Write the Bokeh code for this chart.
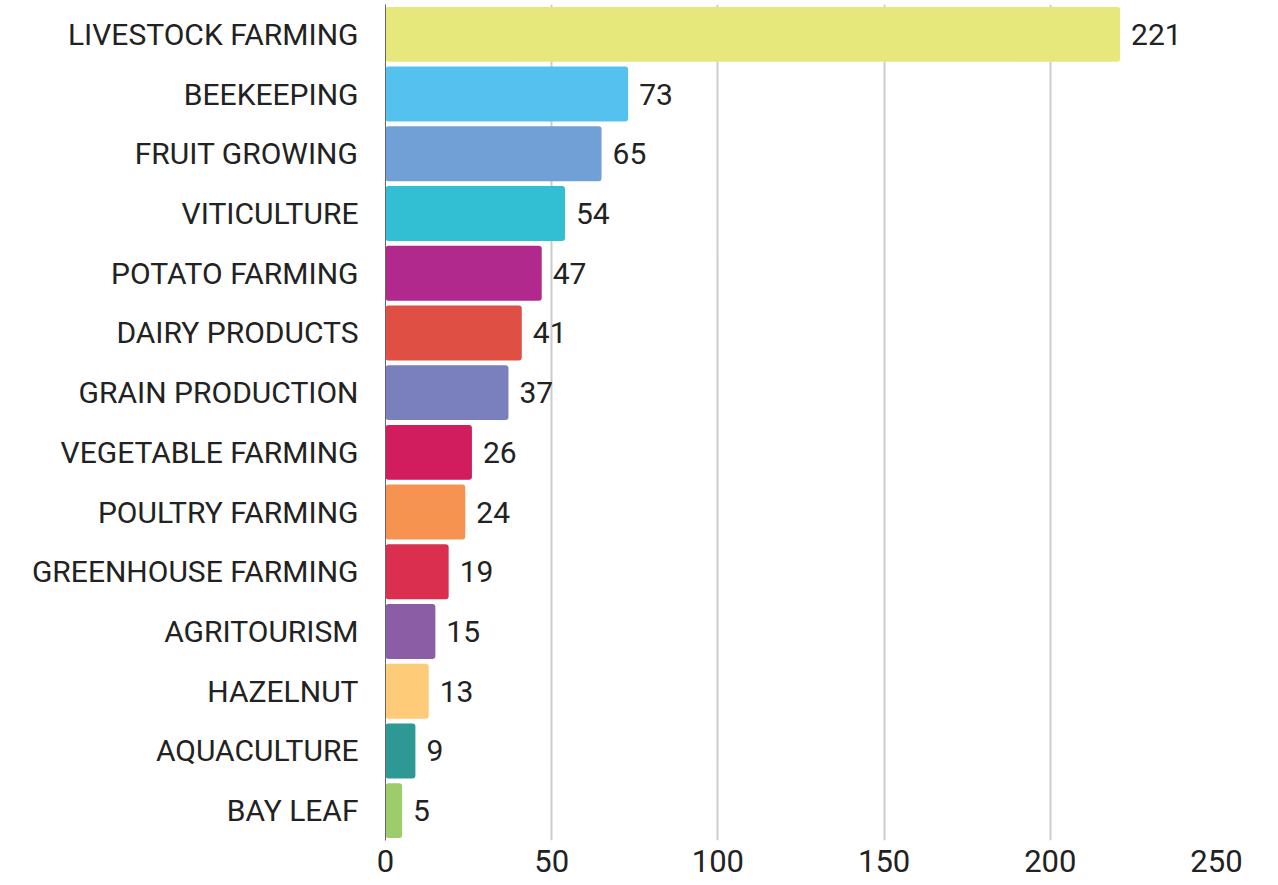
from bokeh.plotting import figure
from bokeh.models import ColumnDataSource, FactorRange, Range1d, FixedTicker
from bokeh.core.properties import value
from bokeh.embed import file_html
from bokeh.resources import INLINE

categories = ["LIVESTOCK FARMING", "BEEKEEPING", "FRUIT GROWING", "VITICULTURE",
              "POTATO FARMING", "DAIRY PRODUCTS", "GRAIN PRODUCTION", "VEGETABLE FARMING",
              "POULTRY FARMING", "GREENHOUSE FARMING", "AGRITOURISM", "HAZELNUT",
              "AQUACULTURE", "BAY LEAF"]
counts = [221, 73, 65, 54, 47, 41, 37, 26, 24, 19, 15, 13, 9, 5]
colors = ["#E6E87C", "#55C1EE", "#71A0D6", "#33BFD3", "#B2298E", "#E04F44", "#7A7FBD",
          "#D11C5D", "#F69350", "#DB2F4F", "#8A5DA4", "#FECB78", "#2D9894", "#9CCD6A"]
x_ticks = [0, 50, 100, 150, 200, 250]

FONT = "Roboto"

src = ColumnDataSource(dict(cat=categories, val=counts, color=colors,
                            lbl=[str(v) for v in counts]))

p = figure(width=1270, height=884, output_backend="svg", toolbar_location=None,
           y_range=FactorRange(*categories[::-1], range_padding=0),
           x_range=Range1d(0, 250),
           min_border_left=385, min_border_right=54, min_border_top=4, min_border_bottom=44)
p.outline_line_color = None

p.hbar(y="cat", right="val", left=0, height=0.92, color="color", source=src,
       line_color=None, border_radius=3)

p.text(x="val", y="cat", text="lbl", source=src, x_offset=11,
       text_baseline="middle", text_align="left",
       text_font=value(FONT), text_font_size="30px", text_color="#222222")

p.xaxis.ticker = FixedTicker(ticks=x_ticks)
p.xaxis.axis_line_color = None
p.xaxis.major_tick_line_color = None
p.xaxis.minor_tick_line_color = None
p.xaxis.major_tick_out = 0
p.xaxis.major_label_text_font = FONT
p.xaxis.major_label_text_font_size = "31px"
p.xaxis.major_label_text_color = "#222222"
p.xaxis.major_label_standoff = 9

p.yaxis.axis_line_color = "#666666"
p.yaxis.axis_line_width = 1
p.yaxis.major_tick_line_color = None
p.yaxis.minor_tick_line_color = None
p.yaxis.major_tick_out = 0
p.yaxis.major_label_text_font = FONT
p.yaxis.major_label_text_font_size = "30px"
p.yaxis.major_label_text_color = "#222222"
p.yaxis.major_label_standoff = 27

p.ygrid.grid_line_color = None
p.xgrid.grid_line_color = "#cccccc"
p.xgrid.grid_line_width = 2

open("out.html", "w").write(file_html(p, INLINE))
